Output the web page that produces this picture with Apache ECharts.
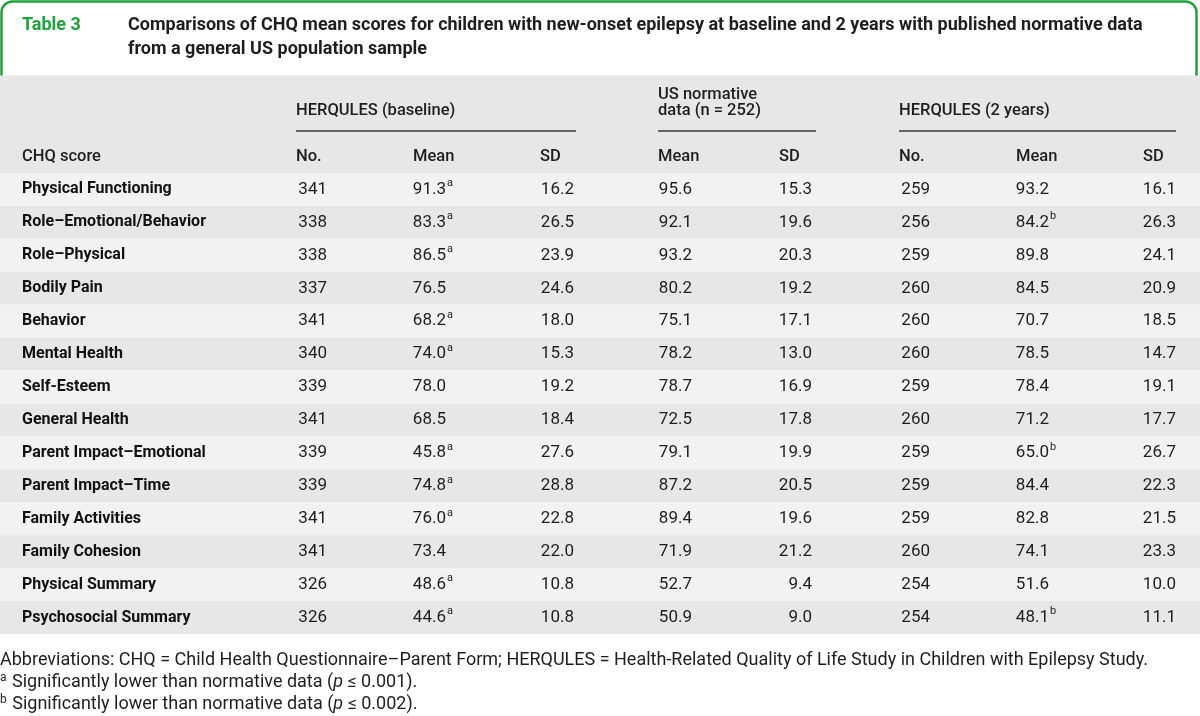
<!DOCTYPE html>
<html>
<head>
<meta charset="utf-8">
<script src="https://cdn.jsdelivr.net/npm/echarts@6/dist/echarts.min.js"></script>
<style>
html,body{margin:0;padding:0;background:#ffffff;}
#chart{width:1200px;height:716px;}
</style>
</head>
<body>
<div id="chart"></div>
<script>
const categories = ['Physical Functioning','Role\u2013Emotional/Behavior','Role\u2013Physical','Bodily Pain','Behavior','Mental Health','Self-Esteem','General Health','Parent Impact\u2013Emotional','Parent Impact\u2013Time','Family Activities','Family Cohesion','Physical Summary','Psychosocial Summary'];
const baseNo = [341,338,338,337,341,340,339,341,339,339,341,341,326,326];
const baseMean = [91.3,83.3,86.5,76.5,68.2,74.0,78.0,68.5,45.8,74.8,76.0,73.4,48.6,44.6];
const baseMeanNote = ['a','a','a','','a','a','','','a','a','a','','a','a'];
const baseSD = [16.2,26.5,23.9,24.6,18.0,15.3,19.2,18.4,27.6,28.8,22.8,22.0,10.8,10.8];
const usMean = [95.6,92.1,93.2,80.2,75.1,78.2,78.7,72.5,79.1,87.2,89.4,71.9,52.7,50.9];
const usSD = [15.3,19.6,20.3,19.2,17.1,13.0,16.9,17.8,19.9,20.5,19.6,21.2,9.4,9.0];
const y2No = [259,256,259,260,260,260,259,260,259,259,259,260,254,254];
const y2Mean = [93.2,84.2,89.8,84.5,70.7,78.5,78.4,71.2,65.0,84.4,82.8,74.1,51.6,48.1];
const y2MeanNote = ['','b','','','','','','','b','','','','','b'];
const y2SD = [16.1,26.3,24.1,20.9,18.5,14.7,19.1,17.7,26.7,22.3,21.5,23.3,10.0,11.1];
const columnHeaders = ['No.','Mean','SD','Mean','SD','No.','Mean','SD'];
const groupHeaders = ['HERQULES (baseline)','US normative','data (n = 252)','HERQULES (2 years)'];
const tableLabel = 'Table 3';
const titleLines = ['Comparisons of CHQ mean scores for children with new-onset epilepsy at baseline and 2 years with published normative data','from a general US population sample'];
const rowHeader = 'CHQ score';
const footAbbrev = 'Abbreviations: CHQ = Child Health Questionnaire\u2013Parent Form; HERQULES = Health-Related Quality of Life Study in Children with Epilepsy Study.';
const footA = '{s|a} Significantly lower than normative data ({i|p} \u2264 0.001).';
const footB = '{s|b} Significantly lower than normative data ({i|p} \u2264 0.002).';

const FONT = 'Roboto, "Liberation Sans", sans-serif';
const TXT = '#1e1e1e';
const GREEN = '#22a03c';

// layout (pixel positions of columns)
const colLeft = [296,413,540,658,779,899,1016,1143];
const colRight = [327,446,574,692,812,930,1049,1176];
const int0 = v => String(v);
const dec1 = v => v.toFixed(1);
const cols = [
  {data: baseNo, fmt: int0},
  {data: baseMean, fmt: dec1, note: baseMeanNote},
  {data: baseSD, fmt: dec1},
  {data: usMean, fmt: dec1},
  {data: usSD, fmt: dec1},
  {data: y2No, fmt: int0},
  {data: y2Mean, fmt: dec1, note: y2MeanNote},
  {data: y2SD, fmt: dec1}
];

const chart = echarts.init(document.getElementById('chart'), null, {renderer:'canvas'});

const HDR = {fill:TXT, fontSize:16.5, fontWeight:500, fontFamily:FONT, verticalAlign:'middle'};
const graphics = [];
graphics.push({type:'rect', shape:{x:1.5, y:1.5, width:1195, height:110, r:11}, style:{fill:'#fff', stroke:GREEN, lineWidth:2.5}, z:0});
graphics.push({type:'rect', shape:{x:0, y:75.5, width:1200, height:97.5}, style:{fill:'#e7e7e7'}, z:1});
graphics.push({type:'text', x:22, y:25, style:{text:tableLabel, fill:GREEN, fontSize:18, fontWeight:'bold', fontFamily:FONT, verticalAlign:'middle'}, z:2});
graphics.push({type:'text', x:128, y:25, style:{text:titleLines[0], fill:TXT, fontSize:18, fontWeight:'bold', fontFamily:FONT, verticalAlign:'middle'}, z:2});
graphics.push({type:'text', x:128, y:49, style:{text:titleLines[1], fill:TXT, fontSize:18, fontWeight:'bold', fontFamily:FONT, verticalAlign:'middle'}, z:2});
graphics.push({type:'text', x:296, y:111, style:Object.assign({text:groupHeaders[0]}, HDR), z:2});
graphics.push({type:'text', x:658, y:95, style:Object.assign({text:groupHeaders[1]}, HDR), z:2});
graphics.push({type:'text', x:658, y:111, style:Object.assign({text:groupHeaders[2]}, HDR), z:2});
graphics.push({type:'text', x:899, y:111, style:Object.assign({text:groupHeaders[3]}, HDR), z:2});
[[296,576],[658,816],[899,1176]].forEach(s => {
  graphics.push({type:'line', shape:{x1:s[0], y1:131, x2:s[1], y2:131}, style:{stroke:'#3a3a3a', lineWidth:1.3}, z:2});
});
graphics.push({type:'text', x:22, y:157, style:Object.assign({text:rowHeader}, HDR), z:2});
columnHeaders.forEach((h, i) => {
  graphics.push({type:'text', x:colLeft[i], y:157, style:Object.assign({text:h}, HDR), z:2});
});
const FOOT = {fill:TXT, fontSize:18, fontFamily:FONT, verticalAlign:'middle'};
const footRich = {s:{fontSize:12, fontFamily:FONT, fill:TXT, verticalAlign:'top', padding:[0,1,8,0]}, i:{fontStyle:'italic', fontSize:18, fontFamily:FONT, fill:TXT}};
graphics.push({type:'text', x:0, y:660, style:Object.assign({text:footAbbrev}, FOOT), z:2});
graphics.push({type:'text', x:0, y:682, style:Object.assign({text:footA, rich:footRich}, FOOT), z:2});
graphics.push({type:'text', x:0, y:704, style:Object.assign({text:footB, rich:footRich}, FOOT), z:2});

const option = {
  backgroundColor:'#ffffff',
  animation:false,
  grid:{left:0, right:0, top:173, height:461},
  xAxis:{type:'value', min:0, max:1200, show:false},
  yAxis:{
    type:'category', data:categories, inverse:true,
    axisLine:{show:false}, axisTick:{show:false},
    axisLabel:{inside:true, margin:22, color:'#111', fontWeight:'bold', fontSize:16, fontFamily:FONT, align:'left'},
    splitLine:{show:false},
    splitArea:{show:true, areaStyle:{color:['#f2f2f2','#e7e7e7']}}
  },
  graphic:graphics,
  series:[{
    type:'custom',
    data:categories.map((c,i)=>[0,i]),
    encode:{x:0, y:1},
    renderItem:function(params, api){
      const i = api.value(1);
      const children = [];
      cols.forEach((c, k) => {
        const p = api.coord([colRight[k], i]);
        children.push({type:'text', x:p[0], y:p[1], style:{text:c.fmt(c.data[i]), align:'right', verticalAlign:'middle', fontSize:17, fontFamily:FONT, fill:TXT}});
        if (c.note && c.note[i]) {
          children.push({type:'text', x:p[0]+1, y:p[1]-6, style:{text:c.note[i], align:'left', verticalAlign:'middle', fontSize:11, fontFamily:FONT, fill:TXT}});
        }
      });
      return {type:'group', children:children};
    }
  }]
};
chart.setOption(option);
</script>
</body>
</html>
